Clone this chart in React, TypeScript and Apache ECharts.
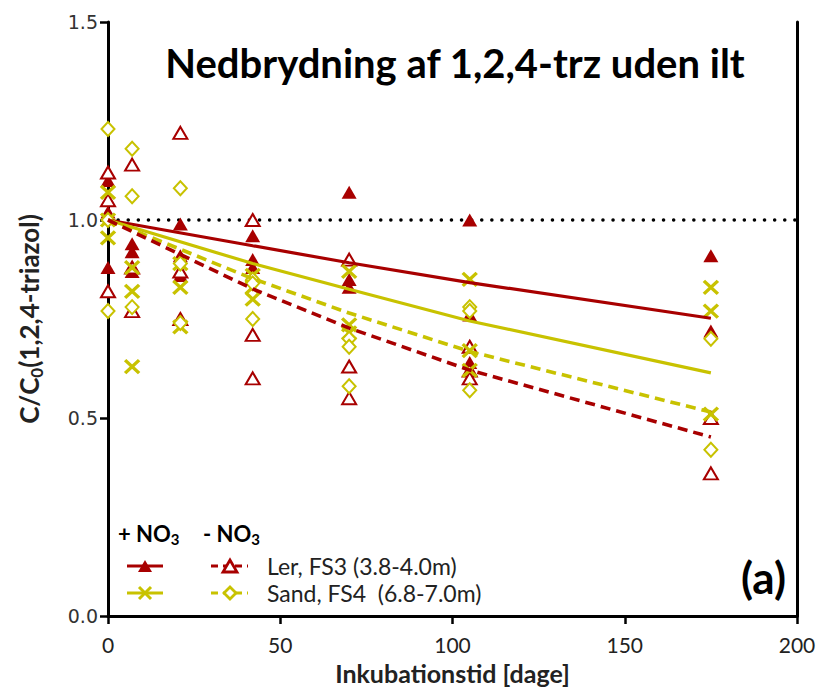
import React, { useEffect, useRef } from 'react';
import * as echarts from 'echarts';

const RED = '#A80000';
const YEL = '#C8C200';
const FONT = 'Lato, "Open Sans", sans-serif';

// sampling days
const days = [0, 7, 21, 42, 70, 105, 175];

// replicates per day (C/C0)
const lerPlusNO3 = [
  [1.1, 1.02, 0.88],
  [0.94, 0.92, 0.87],
  [0.99, 0.91, 0.86],
  [0.96, 0.9, 0.88],
  [1.07, 0.85, 0.83],
  [1.0, 0.76, 0.64],
  [0.91, 0.72],
];
const lerMinusNO3 = [
  [1.12, 1.05, 0.82],
  [1.14, 0.88, 0.77],
  [1.22, 0.87, 0.75],
  [1.0, 0.71, 0.6],
  [0.9, 0.63, 0.55],
  [0.68, 0.62, 0.6],
  [0.5, 0.36],
];
const sandPlusNO3 = [
  [1.07, 1.0, 0.955],
  [0.88, 0.82, 0.63],
  [0.89, 0.83, 0.73],
  [0.86, 0.83, 0.8],
  [0.87, 0.735, 0.715],
  [0.85, 0.67, 0.62],
  [0.83, 0.77, 0.51],
];
const sandMinusNO3 = [
  [1.23, 1.0, 0.77],
  [1.18, 1.06, 0.78],
  [1.08, 0.89, 0.74],
  [0.85, 0.84, 0.75],
  [0.7, 0.68, 0.58],
  [0.78, 0.77, 0.57],
  [0.7, 0.42],
];

// fitted decay curves, read at these days
const fitDays = [0, 42, 70, 105, 175];
const fitLerPlus = [1.0, 0.935, 0.892, 0.842, 0.752];
const fitSandPlus = [1.0, 0.89, 0.825, 0.745, 0.614];
const fitSandMinus = [1.0, 0.852, 0.765, 0.668, 0.515];
const fitLerMinus = [1.0, 0.826, 0.727, 0.621, 0.452];

const refLevel = 1.0;
const xRange = [0, 200];
const yRange = [0, 1.5];

const CROSS = 'path://M0,0L10,10M10,0L0,10';

function toPoints(vals: number[][]) {
  return vals.flatMap((col, i) => col.map((v) => [days[i], v]));
}
function fitPoints(vals: number[]) {
  return fitDays.map((d, i) => [d, vals[i]]);
}

export default function App() {
  const ref = useRef<HTMLDivElement>(null);
  useEffect(() => {
    document.body.style.margin = '0';
    const chart = echarts.init(ref.current!, null, { renderer: 'svg' });
    const dash = [10, 6];
    const sub = (t: string, size: number, subSize: number) => ({
      text: t,
      rich: {
        b: { font: `bold ${size}px ${FONT}`, fill: '#000', lineHeight: size + 4 },
        s: { font: `bold ${subSize}px ${FONT}`, fill: '#000', verticalAlign: 'bottom', lineHeight: subSize + 2 },
      },
    });
    const option: any = {
      animation: false,
      backgroundColor: '#fff',
      grid: { left: 108, right: 20, top: 22, bottom: 73, outerBoundsMode: 'none', containLabel: false },
      xAxis: {
        type: 'value',
        min: xRange[0],
        max: xRange[1],
        interval: 50,
        name: 'Inkubationstid [dage]',
        nameLocation: 'middle',
        nameGap: 44,
        nameTextStyle: { fontFamily: FONT, fontWeight: 'bold', fontSize: 25, color: '#222' },
        axisLine: { lineStyle: { color: '#000', width: 3 } },
        axisTick: { length: 8, lineStyle: { color: '#000', width: 2.5 } },
        axisLabel: { fontFamily: FONT, fontSize: 21, color: '#222', margin: 18 },
        splitLine: { show: false },
      },
      yAxis: [
        {
          type: 'value',
          min: yRange[0],
          max: yRange[1],
          interval: 0.5,
          name: '{a|C/C}{s|0}{a|(1,2,4-triazol)}',
          nameLocation: 'middle',
          nameGap: 63,
          nameRotate: 90,
          nameTextStyle: {
            rich: {
              a: { fontFamily: FONT, fontWeight: 'bold', fontSize: 26, color: '#222', lineHeight: 32 },
              s: { fontFamily: FONT, fontWeight: 'bold', fontSize: 17, color: '#222', verticalAlign: 'bottom', lineHeight: 24 },
            },
          },
          axisLine: { show: true, lineStyle: { color: '#000', width: 3 } },
          axisTick: { show: true, length: 8, lineStyle: { color: '#000', width: 2.5 } },
          axisLabel: {
            fontFamily: '"DejaVu Sans", sans-serif',
            fontSize: 19,
            color: '#333',
            margin: 10,
            formatter: (v: number) => v.toFixed(1),
          },
          splitLine: { show: false },
        },
        {
          type: 'value',
          min: yRange[0],
          max: yRange[1],
          position: 'right',
          axisLine: { show: true, lineStyle: { color: '#000', width: 3 } },
          axisTick: { show: false },
          axisLabel: { show: false },
          splitLine: { show: false },
        },
      ],
      graphic: [
        {
          type: 'text',
          style: {
            text: 'Nedbrydning af 1,2,4-trz uden ilt',
            x: 455,
            y: 63,
            textAlign: 'center',
            textVerticalAlign: 'middle',
            font: `bold 40px ${FONT}`,
            fill: '#000',
          },
        },
        {
          type: 'text',
          style: {
            text: '(a)',
            x: 786,
            y: 577,
            textAlign: 'right',
            textVerticalAlign: 'middle',
            font: `bold 44px ${FONT}`,
            fill: '#000',
          },
        },
        {
          type: 'text',
          style: { ...sub('{b|+ NO}{s|3}', 22, 15), x: 118, y: 533, textVerticalAlign: 'middle' },
        },
        {
          type: 'text',
          style: { ...sub('{b|- NO}{s|3}', 22, 15), x: 203, y: 533, textVerticalAlign: 'middle' },
        },
        // row 1: Ler
        { type: 'line', shape: { x1: 127, y1: 566, x2: 163, y2: 566 }, style: { stroke: RED, lineWidth: 3 } },
        { type: 'polygon', shape: { points: [[138, 572], [152, 572], [145, 560]] }, style: { fill: RED } },
        { type: 'line', shape: { x1: 211, y1: 566, x2: 248, y2: 566 }, style: { stroke: RED, lineWidth: 3, lineDash: [7, 5] } },
        { type: 'polygon', shape: { points: [[223, 572], [237, 572], [230, 560]] }, style: { fill: '#fff', stroke: RED, lineWidth: 2.8 } },
        {
          type: 'text',
          style: { text: 'Ler, FS3 (3.8-4.0m)', x: 267, y: 566, textVerticalAlign: 'middle', font: `23px ${FONT}`, fill: '#222' },
        },
        // row 2: Sand
        { type: 'line', shape: { x1: 127, y1: 593, x2: 163, y2: 593 }, style: { stroke: YEL, lineWidth: 3 } },
        { type: 'line', shape: { x1: 139, y1: 587, x2: 151, y2: 599 }, style: { stroke: YEL, lineWidth: 3 } },
        { type: 'line', shape: { x1: 151, y1: 587, x2: 139, y2: 599 }, style: { stroke: YEL, lineWidth: 3 } },
        { type: 'line', shape: { x1: 211, y1: 593, x2: 248, y2: 593 }, style: { stroke: YEL, lineWidth: 3, lineDash: [7, 5] } },
        { type: 'polygon', shape: { points: [[230, 587], [236, 593], [230, 599], [224, 593]] }, style: { fill: '#fff', stroke: YEL, lineWidth: 2.8 } },
        {
          type: 'text',
          style: { text: 'Sand, FS4  (6.8-7.0m)', x: 267, y: 593, textVerticalAlign: 'middle', font: `23px ${FONT}`, fill: '#222' },
        },
      ],
      series: [
        {
          type: 'line',
          data: [[xRange[0], refLevel], [xRange[1], refLevel]],
          showSymbol: false,
          lineStyle: { color: '#000', width: 3.5, type: [0.1, 10], cap: 'round' },
          silent: true,
          z: 1,
        },
        {
          name: 'Ler +NO3',
          type: 'scatter',
          data: toPoints(lerPlusNO3),
          symbol: 'triangle',
          symbolSize: [15, 13],
          itemStyle: { color: RED, opacity: 1 },
          z: 3,
        },
        {
          name: 'Ler -NO3',
          type: 'scatter',
          data: toPoints(lerMinusNO3),
          symbol: 'emptyTriangle',
          symbolSize: [14, 12],
          itemStyle: { color: RED, borderWidth: 3, opacity: 1 },
          z: 3,
        },
        {
          name: 'Sand +NO3',
          type: 'scatter',
          data: toPoints(sandPlusNO3),
          symbol: CROSS,
          symbolSize: [14, 13],
          itemStyle: { color: YEL, borderColor: YEL, borderWidth: 3.3, opacity: 1 },
          z: 3,
        },
        {
          name: 'Sand -NO3',
          type: 'scatter',
          data: toPoints(sandMinusNO3),
          symbol: 'emptyDiamond',
          symbolSize: [13, 14],
          itemStyle: { color: YEL, borderWidth: 3, opacity: 1 },
          z: 3,
        },
        {
          type: 'line',
          data: fitPoints(fitLerPlus),
          showSymbol: false,
          lineStyle: { color: RED, width: 3.2 },
          z: 4,
        },
        {
          type: 'line',
          data: fitPoints(fitSandPlus),
          showSymbol: false,
          lineStyle: { color: YEL, width: 3.2 },
          z: 4,
        },
        {
          type: 'line',
          data: fitPoints(fitSandMinus),
          showSymbol: false,
          lineStyle: { color: YEL, width: 3.6, type: dash },
          z: 4,
        },
        {
          type: 'line',
          data: fitPoints(fitLerMinus),
          showSymbol: false,
          lineStyle: { color: RED, width: 3.6, type: dash },
          z: 4,
        },
      ],
    };
    chart.setOption(option);
    return () => chart.dispose();
  }, []);
  return <div ref={ref} style={{ width: 817, height: 689 }} />;
}
